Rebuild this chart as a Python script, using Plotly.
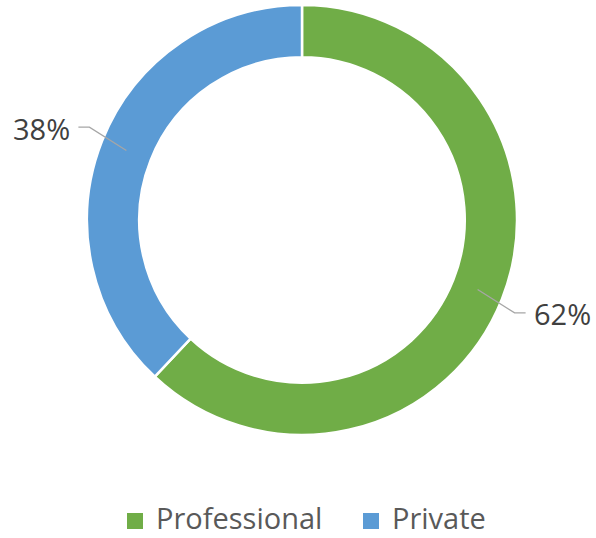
import math
import plotly.graph_objects as go

# Share of respondents by segment
labels = ["Professional", "Private"]
values = [62, 38]
colors = ["#70AD47", "#5B9BD5"]

W, H = 596, 538
CX, CY, R = 302, 220, 215      # donut centre and outer radius (px)
HOLE = 0.757
R_MID = R * (1 + HOLE) / 2     # leader lines start mid-ring
R_ELBOW = 232
SPREAD = 2.0                   # degrees the elbow is pushed away from horizontal


def px(x, y):
    return x / W, 1 - y / H


fig = go.Figure(go.Pie(
    labels=labels,
    values=values,
    hole=HOLE,
    sort=False,
    direction="clockwise",
    rotation=0,
    marker=dict(colors=colors, line=dict(color="white", width=2.5)),
    textinfo="none",
    hoverinfo="label+percent",
    showlegend=False,
    domain=dict(x=[(CX - R) / W, (CX + R) / W], y=[1 - (CY + R) / H, 1 - (CY - R) / H]),
))

shapes, annotations = [], []
total = sum(values)
start = 0.0
for lab, v in zip(labels, values):
    frac = v / total
    mid = (start + frac / 2) * 360
    start += frac
    a = math.radians(mid)
    sx, sy = CX + R_MID * math.sin(a), CY - R_MID * math.cos(a)
    right = math.sin(a) >= 0
    # push elbow a little further from the horizontal axis
    below = math.cos(a) < 0
    tilt = mid + (SPREAD if (right and below) or (not right and not below) else -SPREAD)
    t = math.radians(tilt)
    ex, ey = CX + R_ELBOW * math.sin(t), CY - R_ELBOW * math.cos(t)
    hx = ex + (11 if right else -11)
    x0, y0 = px(sx, sy)
    x1, y1 = px(ex, ey)
    x2, y2 = px(hx, ey)
    shapes.append(dict(type="path", xref="paper", yref="paper",
                       path=f"M{x0},{y0} L{x1},{y1} L{x2},{y2}",
                       line=dict(color="#A6A6A6", width=1.3)))
    tx, ty = px(hx + (6 if right else -6), ey + 1)
    annotations.append(dict(x=tx, y=ty, xref="paper", yref="paper",
                            text=f"{round(frac * 100)}%", showarrow=False,
                            xanchor="left" if right else "right", yanchor="middle",
                            font=dict(family="Open Sans", size=29, color="#404040")))

# Legend drawn below the donut
legend_items = [(127, 155), (363, 391)]
LY = 521
for (sqx, txx), lab, col in zip(legend_items, labels, colors):
    a0 = px(sqx, LY - 8)
    a1 = px(sqx + 16, LY + 8)
    shapes.append(dict(type="rect", xref="paper", yref="paper",
                       x0=a0[0], y0=a1[1], x1=a1[0], y1=a0[1],
                       fillcolor=col, line=dict(width=0)))
    tx, _ = px(txx, LY)
    annotations.append(dict(x=tx, y=0, xref="paper", yref="paper", text=lab,
                            showarrow=False, xanchor="left", yanchor="bottom",
                            borderpad=0,
                            font=dict(family="Open Sans", size=29, color="#595959")))

fig.update_layout(
    width=W, height=H,
    margin=dict(l=0, r=0, t=0, b=0),
    paper_bgcolor="white", plot_bgcolor="white",
    shapes=shapes, annotations=annotations,
)

fig.write_html("out.html")
